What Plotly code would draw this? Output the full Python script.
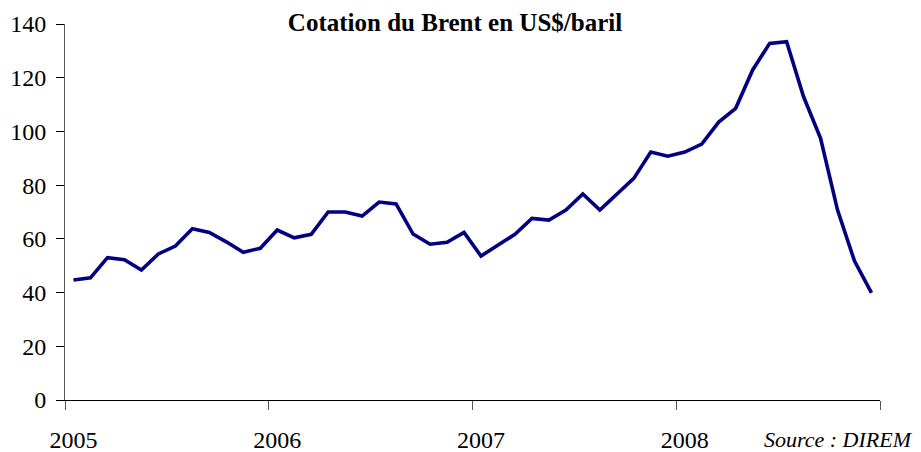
import plotly.graph_objects as go

# Monthly Brent quotation, Jan 2005 - Dec 2008 (US$/baril)
brent_2005 = [44.7, 45.5, 53.0, 52.2, 48.4, 54.4, 57.3, 63.8, 62.4, 58.9, 55.0, 56.5]
brent_2006 = [63.3, 60.4, 61.7, 70.0, 70.0, 68.5, 73.7, 73.0, 61.8, 58.0, 58.7, 62.4]
brent_2007 = [53.6, 57.5, 61.7, 67.6, 67.0, 70.7, 76.7, 70.7, 76.5, 82.5, 92.3, 90.8]
brent_2008 = [92.3, 95.3, 103.5, 108.6, 122.9, 132.8, 133.4, 112.9, 97.4, 70.7, 51.7, 39.9]
years = ["2005", "2006", "2007", "2008"]
y_ticks = [0, 20, 40, 60, 80, 100, 120, 140]

values = brent_2005 + brent_2006 + brent_2007 + brent_2008
months = list(range(len(values)))
year_start = [12 * i for i in range(len(years))]
year_bounds = [12 * i - 0.5 for i in range(len(years) + 1)]

# page body has an 8px default margin: size the figure to fit the window
OFF = 8
W, H = 921 - OFF, 452 - OFF

fig = go.Figure()
fig.add_trace(go.Scatter(
    x=months, y=values, mode="lines",
    line=dict(color="#000080", width=3.6),
    hoverinfo="skip", showlegend=False,
))

serif = "Liberation Serif, Times New Roman, serif"
fig.update_layout(
    width=W, height=H,
    margin=dict(l=65 - OFF, r=41, t=24 - OFF, b=52),
    paper_bgcolor="white", plot_bgcolor="white",
    font=dict(family=serif, color="black", size=24),
    title=dict(
        text="<b>Cotation du Brent en US$/baril</b>",
        x=(455 - OFF) / W, xanchor="center", xref="container",
        y=1 - (22 - OFF) / H, yanchor="middle", yref="container",
        font=dict(family=serif, size=25, color="black"),
    ),
    xaxis=dict(
        range=[-0.5, 47.5],
        tickvals=year_start, ticktext=years,
        ticks="", showgrid=False, zeroline=False,
        showline=True, linecolor="black", linewidth=1,
        ticklabelstandoff=18,
        automargin=False,
        tickfont=dict(family=serif, size=24, color="black"),
        minor=dict(tickvals=year_bounds, ticks="outside", ticklen=9,
                   tickcolor="#555555", tickwidth=1, showgrid=False),
    ),
    yaxis=dict(
        range=[0, 140],
        tickvals=y_ticks,
        ticks="outside", ticklen=8, tickcolor="black", tickwidth=1,
        showgrid=False, zeroline=False,
        showline=True, linecolor="#555555", linewidth=1,
        ticklabelstandoff=5,
        automargin=False,
        tickfont=dict(family=serif, size=24, color="black"),
    ),
    annotations=[dict(
        text="<i>Source : DIREM</i>",
        xref="paper", yref="paper",
        x=(915 - 65) / 815, xanchor="right",
        y=-(439.5 - 400) / 376, yanchor="middle",
        showarrow=False,
        font=dict(family=serif, size=22, color="black"),
    )],
)

fig.write_html("out.html")
